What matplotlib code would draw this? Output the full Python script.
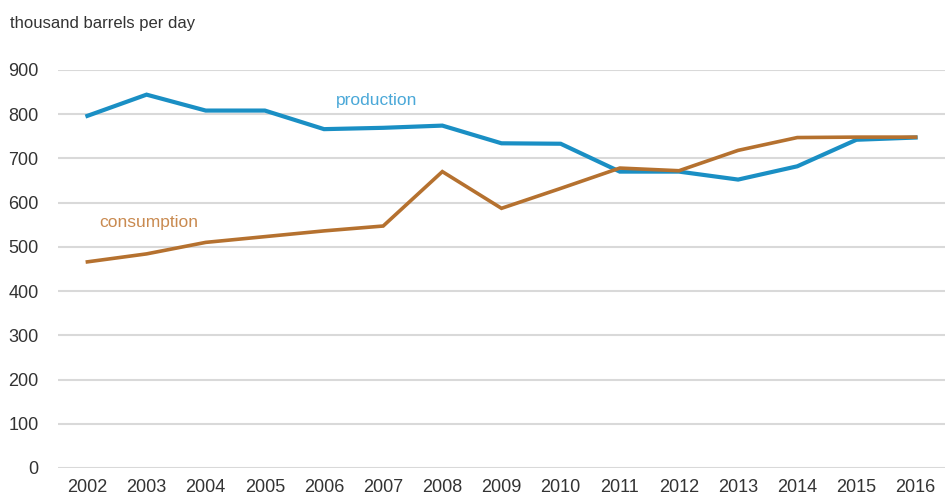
import matplotlib
matplotlib.use("Agg")
import matplotlib.pyplot as plt
from matplotlib import font_manager

years = [2002, 2003, 2004, 2005, 2006, 2007, 2008, 2009, 2010, 2011, 2012, 2013, 2014, 2015, 2016]
production = [796, 844, 808, 808, 766, 769, 774, 734, 733, 670, 670, 652, 682, 742, 747]
consumption = [466, 484, 510, 523, 536, 547, 670, 587, 632, 678, 672, 718, 747, 748, 748]
yticks = [0, 100, 200, 300, 400, 500, 600, 700, 800, 900]
unit_label = "thousand barrels per day"

names = {f.name for f in font_manager.fontManager.ttflist}
fam = ["Liberation Sans Narrow", "DejaVu Sans"] if "Liberation Sans Narrow" in names else ["Liberation Sans", "DejaVu Sans"]
plt.rcParams["font.family"] = fam

fig = plt.figure(figsize=(9.48, 5.03), dpi=100)
ax = fig.add_axes([0.061, 0.0696, 0.936, 0.7915])

blue = "#1a8fc4"
brown = "#b5712f"
ax.plot(years, production, color=blue, lw=3, solid_joinstyle="miter", zorder=3)
ax.plot(years, consumption, color=brown, lw=2.6, solid_joinstyle="miter", zorder=3)

ax.set_xlim(2001.5, 2016.5)
ax.set_ylim(0, 900)
ax.set_yticks(yticks)
ax.set_xticks(years)
ax.set_xticklabels([str(y) for y in years])
ax.yaxis.grid(True, color="#d9d9d9", lw=1.5)
ax.set_axisbelow(True)
for s in ax.spines.values():
    s.set_visible(False)
ax.tick_params(axis="both", length=0, labelsize=13, colors="#333333")
ax.tick_params(axis="y", pad=14)
ax.tick_params(axis="x", pad=8)

ax.text(2006.2, 830, "production", color="#4aa8d8", fontsize=12.5, ha="left", va="center")
ax.text(2002.2, 555, "consumption", color="#c98a50", fontsize=12.5, ha="left", va="center")

fig.text(10 / 948, 1 - 24 / 503, unit_label, fontsize=12, color="#333333", ha="left", va="center")

fig.savefig("out.png", dpi=100)
